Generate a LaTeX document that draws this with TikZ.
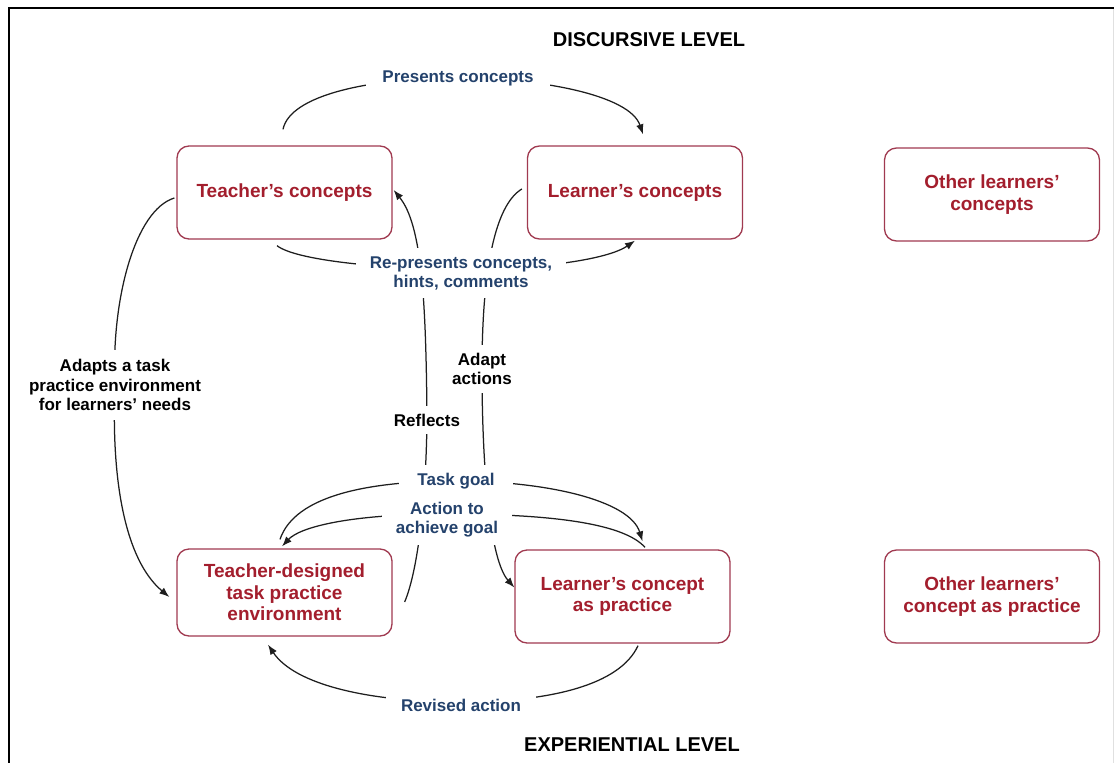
\documentclass[tikz,border=0pt]{standalone}
\usepackage{fontspec}
\setmainfont{Liberation Sans}
\usetikzlibrary{arrows.meta,calc}
\definecolor{conceptred}{RGB}{163,30,45}
\definecolor{boxline}{RGB}{160,58,80}
\definecolor{labelblue}{RGB}{36,66,108}
\definecolor{linegray}{RGB}{30,30,30}
\pgfdeclarelayer{back}
\pgfsetlayers{back,main}
\tikzset{
  conceptbox/.style={draw=boxline, line width=1.3pt, rounded corners=12pt, fill=white,
    minimum width=215pt, minimum height=93pt, align=center, text=conceptred,
    font=\fontsize{19}{21.5}\selectfont\bfseries},
  bluelabel/.style={fill=white, text=labelblue, align=center, inner xsep=15pt, inner ysep=8pt,
    font=\fontsize{17}{19}\selectfont\bfseries},
  blacklabel/.style={fill=white, text=black, align=center, inner xsep=6pt, inner ysep=8pt,
    font=\fontsize{17}{19.5}\selectfont\bfseries},
  levellabel/.style={text=black, font=\fontsize{20}{24}\selectfont\bfseries},
  link/.style={draw=linegray, line width=1.25pt},
  arrowlink/.style={link, -{Latex[length=10pt,width=7.5pt]}}
}
\begin{document}
\begin{tikzpicture}[x=1pt,y=-1pt]
\useasboundingbox (0,0) rectangle (1114,763);

% level headings
\node[levellabel] (disc) at (649,40) {DISCURSIVE LEVEL};
\node[levellabel] (exp) at (632,745) {EXPERIENTIAL LEVEL};

% concept boxes
\node[conceptbox] (tc) at (284.5,192.5) {Teacher’s concepts};
\node[conceptbox] (lc) at (635,192.5) {Learner’s concepts};
\node[conceptbox] (oc) at (992,194.5) {Other learners’\\concepts};
\node[conceptbox, minimum height=87pt] (td) at (284.5,592.5) {Teacher-designed\\task practice\\environment};
\node[conceptbox] (lp) at (622.5,596.5) {Learner’s concept\\as practice};
\node[conceptbox] (op) at (992,596.5) {Other learners’\\concept as practice};

% connector labels
\node[bluelabel, inner ysep=6pt, inner xsep=16pt] (presents) at (458,78) {Presents concepts};
\node[bluelabel, inner xsep=14pt] (represents) at (461,273) {Re-presents concepts,\\hints, comments};
\node[blacklabel] (adapt) at (482,369) {Adapt\\actions};
\node[blacklabel] (reflects) at (427,420) {Reflects};
\node[bluelabel, inner xsep=18pt] (taskgoal) at (456,481) {Task goal};
\node[bluelabel, inner xsep=14pt] (action) at (447,520) {Action to\\achieve goal};
\node[bluelabel] (revised) at (461,705) {Revised action};
\node[blacklabel, inner ysep=9pt] (adapts) at (115,385) {Adapts a task\\practice environment\\for learners’ needs};

% paper, frame and connectors, all behind the labels
\begin{pgfonlayer}{back}
\fill[white] (0,0) rectangle (1114,763);
\draw[line width=2.6pt, black] (9,763) -- (9,8) -- (1114,8);
\draw[line width=0.8pt, black!12] (1113,9) -- (1113,763);

\draw[arrowlink] ($(tc.north)+(-1.5,-16)$) .. controls (290,95) and (370,78) .. (presents.center)
  .. controls (540,78) and (630,95) .. ($(lc.north)+(8,-11)$);
\draw[arrowlink] ($(tc.south)+(-7.5,6)$) .. controls (295,260) and (380,269) .. ($(represents.center)+(0,-4)$)
  .. controls (550,269) and (610,258) .. ($(lc.south)+(0,1)$);
\draw[arrowlink] ($(td.east)+(12,9.5)$) .. controls (418,570) and (426,500) .. (reflects.center)
  .. controls (426,300) and (422,225) .. ($(tc.east)+(1,-2.5)$);
\draw[arrowlink] ($(lc.west)+(-5,-3.5)$) .. controls (495,205) and (482,270) .. (adapt.center)
  .. controls (482,470) and (490,560) .. ($(lp.west)+(0,-9)$);
\draw[arrowlink] ($(td.north)+(-4.5,-9)$) .. controls (295,495) and (370,481) .. (taskgoal.center)
  .. controls (545,481) and (630,500) .. ($(lp.north)+(20,-8)$);
\draw[arrowlink] ($(lp.north)+(22.5,-2)$) .. controls (625,525) and (560,514) .. ($(action.center)+(0,-6)$)
  .. controls (350,514) and (300,527) .. ($(td.north)+(-2.5,-2)$);
\draw[arrowlink] ($(lp.south)+(15.5,2)$) .. controls (620,685) and (550,702) .. ($(revised.center)+(0,-3)$)
  .. controls (370,702) and (295,685) .. ($(td.south)+(-16.5,8)$);
\draw[arrowlink] ($(tc.west)+(-2,5.5)$) .. controls (135,210) and (111,300) .. (adapts.center)
  .. controls (111,480) and (125,560) .. ($(td.west)+(-7,4.5)$);
\end{pgfonlayer}
\end{tikzpicture}
\end{document}
